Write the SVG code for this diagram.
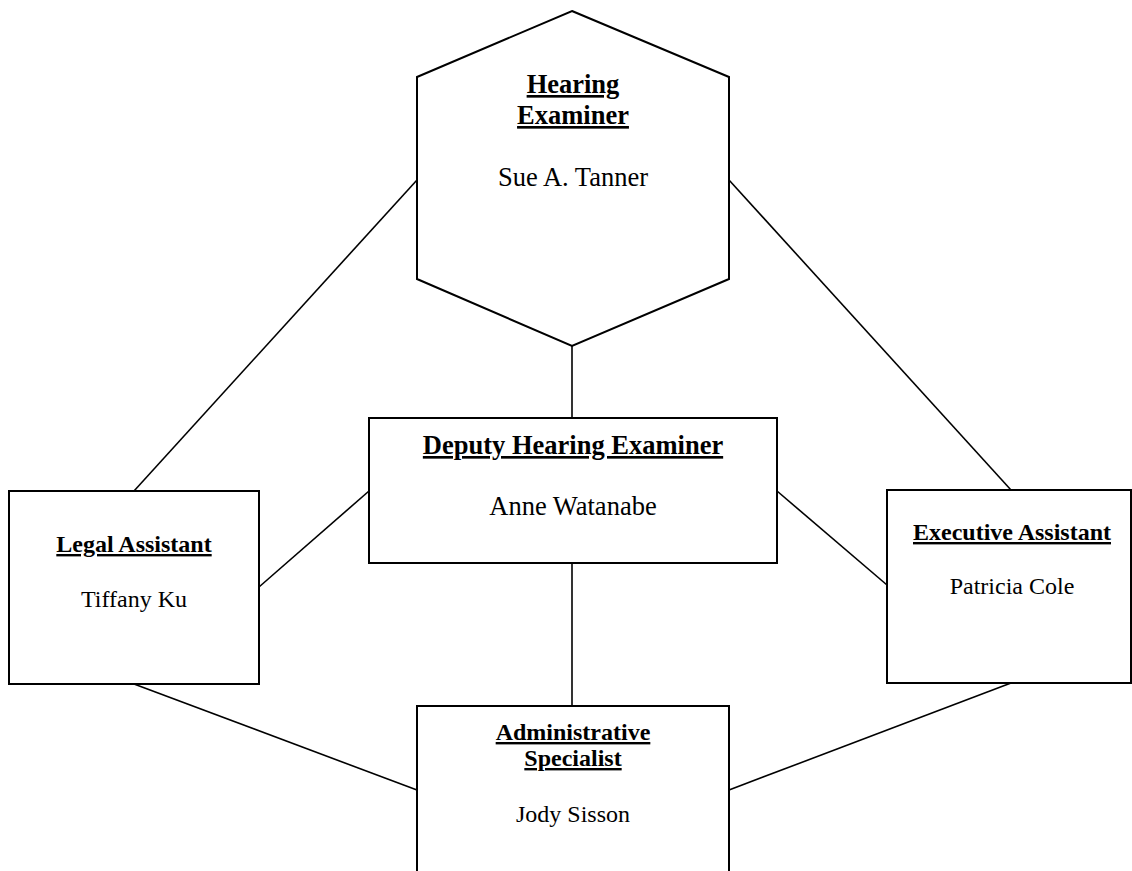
<svg xmlns="http://www.w3.org/2000/svg" width="1132" height="871" viewBox="0 0 1132 871">
<style>
.shape{fill:#fff;stroke:#000;stroke-width:2}
.conn line{stroke:#000;stroke-width:1.6}
text{font-family:"Liberation Serif","Times New Roman",serif;fill:#000;text-anchor:middle}
.t{font-weight:bold;text-decoration:underline;text-decoration-thickness:2px}
.big{font-size:26.5px}
.sm{font-size:24px}
</style>
<rect width="1132" height="871" fill="#fff"/>
<g id="connectors" class="conn">
<line x1="572" y1="346" x2="572" y2="418"/>
<line x1="572" y1="563" x2="572" y2="706"/>
<line x1="417" y1="180" x2="134" y2="491"/>
<line x1="729" y1="180" x2="1011" y2="490"/>
<line x1="369" y1="491" x2="259" y2="587"/>
<line x1="777" y1="491" x2="887" y2="585"/>
<line x1="134" y1="684" x2="417" y2="790"/>
<line x1="1011" y1="683" x2="729" y2="790"/>
</g>
<g id="hearing-examiner">
<polygon class="shape" points="572,11 729,77 729,279 572,346 417,279 417,77"/>
<text class="t big" x="573" y="93">Hearing</text>
<text class="t big" x="573" y="124">Examiner</text>
<text class="big" x="573" y="186">Sue A. Tanner</text>
</g>
<g id="deputy-hearing-examiner">
<rect class="shape" x="369" y="418" width="408" height="145"/>
<text class="t big" x="573" y="454">Deputy Hearing Examiner</text>
<text class="big" x="573" y="515">Anne Watanabe</text>
</g>
<g id="legal-assistant">
<rect class="shape" x="9" y="491" width="250" height="193"/>
<text class="t sm" x="134" y="552">Legal Assistant</text>
<text class="sm" x="134" y="607">Tiffany Ku</text>
</g>
<g id="executive-assistant">
<rect class="shape" x="887" y="490" width="244" height="193"/>
<text class="t sm" x="1012" y="540">Executive Assistant</text>
<text class="sm" x="1012" y="594">Patricia Cole</text>
</g>
<g id="administrative-specialist">
<rect class="shape" x="417" y="706" width="312" height="180"/>
<text class="t sm" x="573" y="740">Administrative</text>
<text class="t sm" x="573" y="766">Specialist</text>
<text class="sm" x="573" y="822">Jody Sisson</text>
</g>
</svg>
